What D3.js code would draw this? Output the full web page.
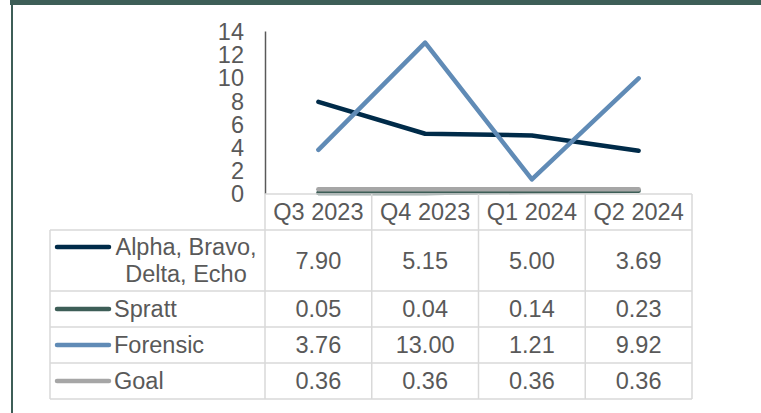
<!DOCTYPE html>
<html>
<head>
<meta charset="utf-8">
<script src="https://cdn.jsdelivr.net/npm/d3@7"></script>
<style>
  html, body { margin: 0; padding: 0; background: #fff; }
  svg { display: block; font-family: "Liberation Sans", Arial, sans-serif; }
</style>
</head>
<body>
<svg width="761" height="413"></svg>
<script>
// Data
const quarters = ["Q3 2023", "Q4 2023", "Q1 2024", "Q2 2024"];
const seriesNames = [["Alpha, Bravo,", "Delta, Echo"], ["Spratt"], ["Forensic"], ["Goal"]];
const alphaValues = [7.90, 5.15, 5.00, 3.69];
const sprattValues = [0.05, 0.04, 0.14, 0.23];
const forensicValues = [3.76, 13.00, 1.21, 9.92];
const goalValues = [0.36, 0.36, 0.36, 0.36];
const yTicks = [0, 2, 4, 6, 8, 10, 12, 14];
const seriesColors = ["#002b49", "#3d5e57", "#608bb6", "#a6a6a6"];

const series = [alphaValues, sprattValues, forensicValues, goalValues].map((values, i) => ({
  name: seriesNames[i], values, color: seriesColors[i]
}));

const svg = d3.select("svg");
const TEXT = "#595959";
const GRID = "#d9d9d9";
const FONT = 23.5;

// Frame
svg.append("rect").attr("x", 10).attr("y", 0).attr("width", 751).attr("height", 5).attr("fill", "#3d5e57");
svg.append("rect").attr("x", 11).attr("y", 0).attr("width", 2).attr("height", 413).attr("fill", "#3d5e57");

// Scales
const x = d3.scaleBand().domain(quarters).range([265, 692]);
const y = d3.scaleLinear().domain([0, 14]).range([193.5, 31]);

// Y axis
const yAxis = svg.append("g")
  .attr("transform", "translate(265,0)")
  .call(d3.axisLeft(y).tickValues(yTicks).tickSize(0).tickPadding(21));
yAxis.select(".domain").attr("stroke", "#595959").attr("stroke-width", 1.5);
yAxis.selectAll("text").attr("fill", TEXT).attr("font-size", FONT)
  .attr("font-family", "Liberation Sans, Arial, sans-serif").attr("dy", "0.36em");

// Lines
const line = d3.line()
  .x((d, i) => x(quarters[i]) + x.bandwidth() / 2)
  .y(d => y(d));

svg.append("g").selectAll("path")
  .data(series)
  .join("path")
  .attr("d", s => line(s.values))
  .attr("fill", "none")
  .attr("stroke", s => s.color)
  .attr("stroke-width", 4.5)
  .attr("stroke-linecap", "round")
  .attr("stroke-linejoin", "round");

// Data table
const tableLeft = 50;
const headerTop = 194;
const headerH = 36;
const rowHeights = [61, 36, 36, 36];
const rowTops = [];
let acc = headerTop + headerH;
rowHeights.forEach(h => { rowTops.push(acc); acc += h; });
const tableBottom = acc;
const colEdges = quarters.map(q => x(q)).concat([x.range()[1]]);

const grid = svg.append("g").attr("stroke", GRID).attr("stroke-width", 1.5);
grid.append("line").attr("x1", colEdges[0]).attr("x2", colEdges[4]).attr("y1", headerTop).attr("y2", headerTop);
rowTops.concat([tableBottom]).forEach(yy => {
  grid.append("line").attr("x1", tableLeft).attr("x2", colEdges[4]).attr("y1", yy).attr("y2", yy);
});
grid.append("line").attr("x1", tableLeft).attr("x2", tableLeft).attr("y1", rowTops[0]).attr("y2", tableBottom);
colEdges.forEach(xx => {
  grid.append("line").attr("x1", xx).attr("x2", xx).attr("y1", headerTop).attr("y2", tableBottom);
});

// Header
svg.append("g").selectAll("text")
  .data(quarters)
  .join("text")
  .attr("x", q => x(q) + x.bandwidth() / 2)
  .attr("y", headerTop + headerH / 2)
  .attr("dy", "0.36em")
  .attr("text-anchor", "middle")
  .attr("fill", TEXT)
  .attr("font-size", FONT)
  .text(q => q);

// Rows
const fmt = d3.format(".2f");
series.forEach((s, r) => {
  const top = rowTops[r];
  const mid = top + rowHeights[r] / 2;
  const g = svg.append("g");
  const nameLines = s.name;
  const lineGap = 27;
  const firstY = mid - (nameLines.length - 1) * lineGap / 2;
  // legend key
  g.append("line")
    .attr("x1", 57).attr("x2", 109)
    .attr("y1", firstY).attr("y2", firstY)
    .attr("stroke", s.color).attr("stroke-width", 4.5).attr("stroke-linecap", "round");
  if (nameLines.length > 1) {
    g.selectAll(".nm").data(nameLines).join("text")
      .attr("x", 186).attr("y", (d, i) => firstY + i * lineGap)
      .attr("dy", "0.36em").attr("text-anchor", "middle")
      .attr("fill", TEXT).attr("font-size", FONT).text(d => d);
  } else {
    g.append("text")
      .attr("x", 114).attr("y", mid)
      .attr("dy", "0.36em")
      .attr("fill", TEXT).attr("font-size", FONT).text(nameLines[0]);
  }
  g.selectAll(".val").data(s.values).join("text")
    .attr("x", (d, i) => x(quarters[i]) + x.bandwidth() / 2)
    .attr("y", mid)
    .attr("dy", "0.36em")
    .attr("text-anchor", "middle")
    .attr("fill", TEXT).attr("font-size", FONT)
    .text(d => fmt(d));
});
</script>
</body>
</html>
